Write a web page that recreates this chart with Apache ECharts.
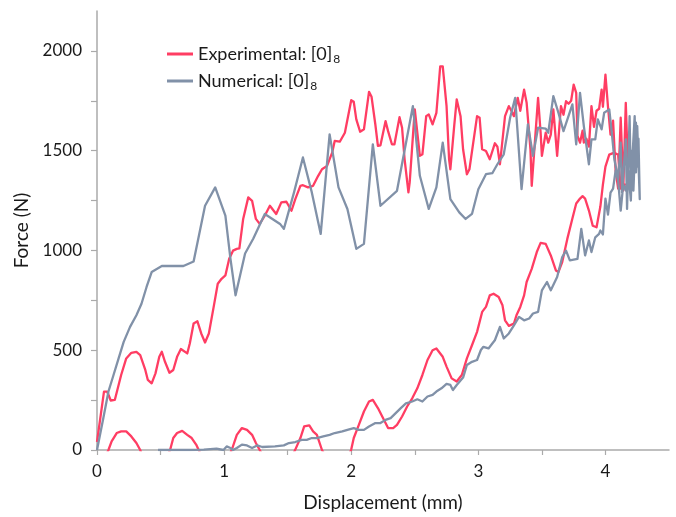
<!DOCTYPE html>
<html>
<head>
<meta charset="utf-8">
<script src="https://cdn.jsdelivr.net/npm/echarts@6/dist/echarts.min.js"></script>
<style>
  html, body { margin: 0; padding: 0; background: #ffffff; }
  #chart { width: 676px; height: 517px; }
</style>
</head>
<body>
<div id="chart"></div>
<script>
// Force–displacement loops: [displacement (mm), force (N)] in drawing order
// (loading branch first, then the unloading branch back toward zero).
const experimentalLoading = [
  [0, 40], [0.055, 293], [0.08, 293], [0.108, 248], [0.14, 251], [0.19, 376], [0.23, 459],
  [0.27, 487], [0.31, 492], [0.34, 476], [0.38, 401], [0.40, 351], [0.43, 334], [0.46, 384],
  [0.49, 467], [0.51, 492], [0.535, 442], [0.57, 387], [0.60, 401], [0.63, 467], [0.66, 506],
  [0.71, 484], [0.73, 534], [0.76, 634], [0.79, 645], [0.82, 584], [0.85, 539], [0.88, 584],
  [0.92, 725], [0.95, 833], [0.98, 858], [1.01, 875], [1.04, 958], [1.07, 999], [1.10, 1008],
  [1.12, 1010], [1.15, 1158], [1.19, 1266], [1.22, 1249], [1.25, 1158], [1.28, 1133],
  [1.32, 1174], [1.36, 1224], [1.41, 1183], [1.45, 1241], [1.49, 1244], [1.53, 1199],
  [1.56, 1257], [1.60, 1324], [1.62, 1327], [1.66, 1316], [1.70, 1324], [1.74, 1374],
  [1.77, 1407], [1.81, 1424], [1.85, 1490], [1.87, 1549], [1.91, 1545], [1.95, 1590],
  [2.00, 1753], [2.02, 1745], [2.04, 1657], [2.07, 1595], [2.10, 1607], [2.14, 1795],
  [2.16, 1770], [2.19, 1630], [2.21, 1524], [2.23, 1527], [2.27, 1648], [2.29, 1598],
  [2.32, 1532], [2.34, 1532], [2.38, 1668], [2.40, 1615], [2.42, 1457], [2.45, 1291],
  [2.46, 1341], [2.50, 1707], [2.54, 1474], [2.56, 1482], [2.59, 1673], [2.61, 1682],
  [2.64, 1632], [2.67, 1690], [2.70, 1922], [2.72, 1922], [2.75, 1723], [2.77, 1457],
  [2.78, 1407], [2.81, 1623], [2.83, 1757], [2.86, 1673], [2.88, 1507], [2.91, 1382],
  [2.93, 1407], [2.96, 1540], [2.99, 1673], [3.01, 1665], [3.03, 1507], [3.06, 1498],
  [3.09, 1457], [3.13, 1537], [3.15, 1520], [3.17, 1432], [3.21, 1673], [3.24, 1723],
  [3.26, 1700], [3.28, 1673], [3.31, 1765], [3.33, 1700], [3.36, 1806], [3.38, 1740],
  [3.41, 1507], [3.42, 1324], [3.44, 1500], [3.47, 1765], [3.49, 1591], [3.50, 1474],
  [3.53, 1590], [3.55, 1540], [3.57, 1580], [3.59, 1707], [3.62, 1474], [3.63, 1480],
  [3.65, 1723], [3.67, 1680], [3.69, 1748], [3.71, 1735], [3.73, 1750], [3.75, 1831],
  [3.77, 1790], [3.78, 1574], [3.80, 1540], [3.82, 1600], [3.83, 1540], [3.85, 1560],
  [3.87, 1520], [3.89, 1723], [3.91, 1620], [3.93, 1700], [3.95, 1710], [3.97, 1806],
  [3.98, 1720], [4.00, 1881], [4.02, 1720], [4.04, 1580], [4.06, 1650], [4.08, 1400],
  [4.10, 1310], [4.12, 1665], [4.13, 1500], [4.14, 1300], [4.16, 1740], [4.17, 1550],
  [4.18, 1330]
];

const experimentalUnloading = [
  [4.15, 1330], [4.12, 1310], [4.10, 1480], [4.07, 1490], [4.03, 1480], [4.00, 1420],
  [3.98, 1330], [3.96, 1220], [3.93, 1116], [3.90, 1124], [3.87, 1200], [3.84, 1260],
  [3.82, 1272], [3.80, 1260], [3.77, 1235], [3.74, 1160], [3.70, 1058], [3.66, 942],
  [3.63, 892], [3.61, 900], [3.57, 975], [3.53, 1033], [3.49, 1038], [3.46, 992],
  [3.42, 908], [3.38, 842], [3.36, 775], [3.33, 717], [3.30, 675], [3.28, 634], [3.24, 622],
  [3.21, 650], [3.19, 725], [3.16, 767], [3.12, 783], [3.09, 775], [3.06, 717], [3.03, 692],
  [2.99, 592], [2.95, 525], [2.91, 459], [2.87, 376], [2.83, 343], [2.79, 359], [2.75, 418],
  [2.72, 467], [2.67, 509], [2.64, 500], [2.60, 451], [2.56, 376], [2.52, 309], [2.48, 259],
  [2.44, 218], [2.40, 168], [2.36, 126], [2.33, 110], [2.29, 110], [2.25, 160], [2.21, 210],
  [2.17, 251], [2.14, 243], [2.10, 193], [2.06, 126], [2.02, 60], [2.00, 2], [1.96, -60],
  [1.90, -110], [1.84, -80], [1.77, 0], [1.73, 76], [1.70, 93], [1.67, 123], [1.63, 118],
  [1.60, 60], [1.56, 2], [1.50, -80], [1.42, -110], [1.34, -70], [1.28, 0], [1.25, 35],
  [1.22, 76], [1.18, 101], [1.14, 110], [1.10, 76], [1.06, 0], [1.00, -80], [0.92, -110],
  [0.85, -70], [0.80, 0], [0.78, 27], [0.745, 60], [0.71, 76], [0.67, 96], [0.63, 85],
  [0.60, 60], [0.575, 0], [0.52, -80], [0.45, -110], [0.38, -70], [0.34, 0], [0.31, 35],
  [0.27, 68], [0.23, 93], [0.19, 93], [0.155, 85], [0.115, 43], [0.09, 0], [0.05, -60]
];

const numericalLoading = [
  [0, 0], [0.05, 160], [0.09, 293], [0.13, 376], [0.17, 459], [0.21, 542], [0.26, 617],
  [0.31, 675], [0.35, 733], [0.39, 817], [0.43, 892], [0.51, 922], [0.68, 922], [0.76, 945],
  [0.85, 1224], [0.93, 1316], [1.01, 1174], [1.05, 958], [1.09, 775], [1.165, 985],
  [1.23, 1060], [1.32, 1183], [1.44, 1133], [1.47, 1108], [1.55, 1291], [1.62, 1466],
  [1.69, 1291], [1.76, 1083], [1.83, 1582], [1.90, 1316], [1.97, 1208], [2.04, 1008],
  [2.10, 1033], [2.17, 1532], [2.23, 1224], [2.36, 1299], [2.485, 1723], [2.54, 1374],
  [2.61, 1208], [2.67, 1316], [2.72, 1540], [2.78, 1257], [2.85, 1191], [2.90, 1158],
  [2.95, 1183], [3.00, 1307], [3.06, 1382], [3.11, 1387], [3.15, 1432], [3.20, 1482],
  [3.25, 1665], [3.29, 1765], [3.34, 1307], [3.39, 1632], [3.43, 1474], [3.47, 1615],
  [3.53, 1610], [3.55, 1590], [3.59, 1773], [3.63, 1690], [3.67, 1598], [3.74, 1732],
  [3.77, 1532], [3.80, 1790], [3.83, 1623], [3.87, 1432], [3.89, 1557], [3.92, 1557],
  [3.94, 1657], [3.97, 1607], [3.99, 1690], [4.03, 1707], [4.05, 1590], [4.07, 1457],
  [4.10, 1357], [4.12, 1540], [4.13, 1291], [4.16, 1557], [4.17, 1208], [4.19, 1673],
  [4.20, 1324], [4.22, 1557], [4.23, 1673], [4.24, 1391], [4.25, 1623], [4.27, 1257]
];

const numericalUnloading = [
  [4.26, 1560], [4.25, 1420], [4.24, 1640], [4.22, 1300], [4.21, 1500], [4.20, 1250],
  [4.18, 1400], [4.16, 1300], [4.14, 1330], [4.12, 1200], [4.10, 1350], [4.08, 1400],
  [4.06, 1310], [4.04, 1290], [4.02, 1180], [4.00, 1260], [3.98, 1080], [3.96, 1100],
  [3.95, 1083], [3.92, 1066], [3.89, 992], [3.87, 1050], [3.84, 975], [3.81, 1108],
  [3.78, 958], [3.72, 950], [3.69, 999], [3.66, 967], [3.62, 867], [3.57, 800], [3.54, 842],
  [3.50, 800], [3.47, 692], [3.43, 684], [3.40, 659], [3.36, 650], [3.32, 667], [3.28, 625],
  [3.24, 584], [3.20, 559], [3.17, 617], [3.13, 550], [3.11, 534], [3.08, 509], [3.04, 517],
  [3.02, 501], [2.99, 451], [2.95, 442], [2.91, 426], [2.88, 363], [2.83, 326], [2.80, 301],
  [2.78, 326], [2.75, 331], [2.71, 309], [2.67, 293], [2.64, 276], [2.60, 268], [2.56, 243],
  [2.52, 254], [2.48, 243], [2.43, 234], [2.39, 210], [2.35, 185], [2.31, 160], [2.27, 151],
  [2.23, 135], [2.19, 135], [2.14, 118], [2.10, 101], [2.06, 101], [2.02, 110], [1.97, 101],
  [1.93, 93], [1.87, 85], [1.83, 76], [1.78, 68], [1.73, 60], [1.69, 60], [1.65, 51],
  [1.61, 51], [1.56, 40], [1.51, 35], [1.47, 23], [1.40, 18], [1.30, 15], [1.26, 23],
  [1.22, 10], [1.18, 23], [1.14, 27], [1.10, 10], [1.07, 0], [1.05, 10], [1.02, 18],
  [0.995, 0], [0.94, 7], [0.84, 2], [0.73, 0], [0.48, 0]
];

const seriesNames = ['Experimental: [0]8', 'Numerical: [0]8'];
const xTickLabels = ['0', '1', '2', '3', '4'];
const yTickLabels = ['0', '500', '1000', '1500', '2000'];

const FONT = 'Lato';
const RED = '#ff3d63';
const GREY = '#8191a8';
const AXIS = '#aaaaaa';

const chart = echarts.init(document.getElementById('chart'), null, { renderer: 'canvas' });

chart.setOption({
  animation: false,
  backgroundColor: '#ffffff',
  grid: { left: 97, right: 7, top: 11, bottom: 65, containLabel: false },
  legend: {
    orient: 'vertical',
    left: 162,
    top: 40,
    itemWidth: 26,
    itemHeight: 3,
    itemGap: 7,
    icon: 'rect',
    data: seriesNames,
    formatter: function (name) {
      const base = name.slice(0, -1);
      const sub = name.slice(-1);
      return '{a|' + base + '}{s|' + sub + '}';
    },
    textStyle: {
      rich: {
        a: { fontFamily: FONT, fontSize: 18, color: '#1a1a1a', lineHeight: 22 },
        s: { fontFamily: FONT, fontSize: 12, color: '#1a1a1a', padding: [10, 0, 0, 1] }
      }
    }
  },
  xAxis: {
    type: 'value',
    min: 0,
    max: 4.5,
    interval: 0.5,
    name: 'Displacement (mm)',
    nameLocation: 'middle',
    nameGap: 43,
    nameTextStyle: { fontFamily: FONT, fontSize: 19, color: '#1a1a1a' },
    axisLine: { show: true, lineStyle: { color: AXIS, width: 1.5 } },
    axisTick: { show: true, length: 5, inside: false, lineStyle: { color: AXIS, width: 1.2 } },
    splitLine: { show: false },
    axisLabel: {
      margin: 13,
      fontFamily: FONT,
      fontSize: 17,
      color: '#1a1a1a',
      showMaxLabel: false,
      formatter: function (v) {
        const i = xTickLabels.indexOf(String(v));
        return i >= 0 ? xTickLabels[i] : '';
      }
    }
  },
  yAxis: {
    type: 'value',
    min: 0,
    max: 2200,
    interval: 250,
    name: 'Force (N)',
    nameLocation: 'middle',
    nameGap: 58,
    nameTextStyle: { fontFamily: FONT, fontSize: 19, color: '#1a1a1a' },
    axisLine: { show: true, lineStyle: { color: AXIS, width: 1.5 } },
    axisTick: { show: true, length: 6, inside: false, lineStyle: { color: AXIS, width: 1.2 } },
    splitLine: { show: false },
    axisLabel: {
      margin: 15,
      fontFamily: FONT,
      fontSize: 17,
      color: '#1a1a1a',
      showMaxLabel: false,
      formatter: function (v) {
        const i = yTickLabels.indexOf(String(v));
        return i >= 0 ? yTickLabels[i] : '';
      }
    }
  },
  series: [
    {
      name: seriesNames[0],
      type: 'line',
      data: experimentalLoading.concat(experimentalUnloading),
      symbol: 'none',
      clip: true,
      lineStyle: { color: RED, width: 2.3, join: 'round' },
      itemStyle: { color: RED },
      z: 2
    },
    {
      name: seriesNames[1],
      type: 'line',
      data: numericalLoading.concat(numericalUnloading),
      symbol: 'none',
      clip: true,
      lineStyle: { color: GREY, width: 2.3, join: 'round' },
      itemStyle: { color: GREY },
      z: 3
    }
  ]
});
</script>
</body>
</html>
